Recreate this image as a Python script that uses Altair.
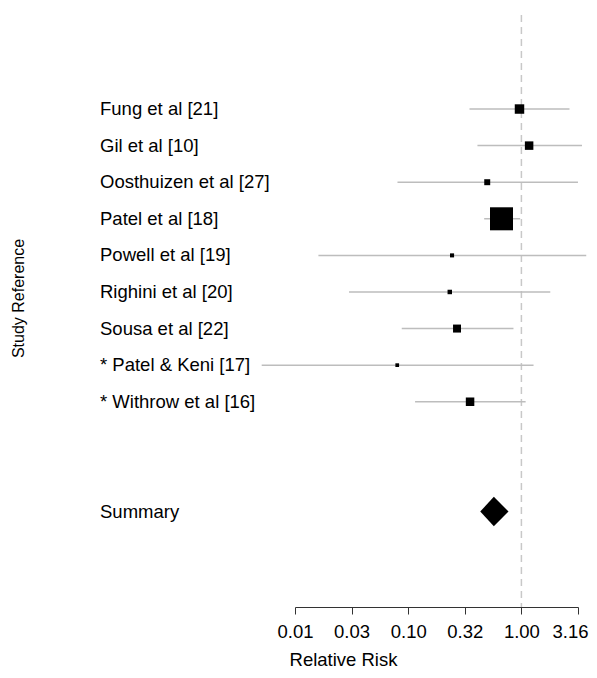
import altair as alt
import pandas as pd

studies = ["Fung et al [21]", "Gil et al [10]", "Oosthuizen et al [27]", "Patel et al [18]",
           "Powell et al [19]", "Righini et al [20]", "Sousa et al [22]",
           "* Patel & Keni [17]", "* Withrow et al [16]"]
rr = [0.962, 1.17, 0.499, 0.667, 0.244, 0.233, 0.270, 0.080, 0.352]
ci_low = [0.348, 0.409, 0.0804, 0.469, 0.0161, 0.030, 0.0877, 0.00508, 0.115]
ci_high = [2.66, 3.43, 3.16, 0.975, 3.74, 1.80, 0.851, 1.28, 1.09]
weights = [9.8, 7.9, 3.9, 58.0, 1.8, 2.2, 7.0, 1.5, 7.9]

summary_label = "Summary"
summary_rr = 0.571
summary_low = 0.433
summary_high = 0.769

tick_values = [0.01, 0.0316, 0.1, 0.316, 1.0, 3.16]
ref_value = [1.0]

n = len(studies)
rows = [n - i + 3 for i in range(n)]
summary_row = 1

df = pd.DataFrame({"study": studies, "rr": rr, "lo": ci_low, "hi": ci_high,
                   "w": weights, "row": rows})
labels_df = pd.DataFrame({"label": studies + [summary_label], "row": rows + [summary_row]})
half = 0.4
diamond_df = pd.DataFrame({
    "x": [summary_low, summary_rr, summary_high],
    "top": [summary_row, summary_row + half, summary_row],
    "bot": [summary_row, summary_row - half, summary_row],
})
ref_df = pd.DataFrame({"ref": ref_value})

FONT = "Liberation Sans"

xscale = alt.Scale(type="log", domain=[0.01, 3.1623], nice=False)
yscale = alt.Scale(domain=[-1.61, 14.57], nice=False, zero=False)
xaxis = alt.Axis(values=tick_values, format=".2f", title="Relative Risk", grid=False,
                 tickSize=7, labelPadding=8, domainColor="#333333", tickColor="#333333",
                 labelFontSize=18.5, titleFontSize=18.5, titleFontWeight="normal",
                 labelFont=FONT, titleFont=FONT, labelColor="black", titleColor="black",
                 labelFlush=False, labelOverlap=False, titleX=48, titleAlign="center",
                 titlePadding=10,
                 labelOffset={"expr": "datum.value > 3 ? -8 : 0"})
yaxis = alt.Axis(title="Study Reference", labels=False, ticks=False, domain=False, grid=False,
                 titleFontSize=16, titleFontWeight="normal", titleFont=FONT,
                 titleColor="black", titleAngle=270, titleX=-277, titleY=283,
                 titleAlign="center", titleBaseline="middle")

ref = alt.Chart(ref_df).mark_rule(color="#c8c8c8", strokeDash=[7, 5], strokeWidth=1.5).encode(
    x=alt.X("ref:Q", scale=xscale, axis=xaxis)
)

ci = alt.Chart(df).mark_rule(color="#bdbdbd", strokeWidth=1.5).encode(
    x=alt.X("lo:Q", scale=xscale, axis=xaxis),
    x2="hi:Q",
    y=alt.Y("row:Q", scale=yscale, axis=yaxis),
)

sq = alt.Chart(df).mark_square(color="black", filled=True, opacity=1).encode(
    x=alt.X("rr:Q", scale=xscale, axis=xaxis),
    y=alt.Y("row:Q", scale=yscale, axis=yaxis),
    size=alt.Size("w:Q", scale=alt.Scale(domain=[0, 100], range=[0, 914]), legend=None),
)

diamond = alt.Chart(diamond_df).mark_area(color="black", opacity=1).encode(
    x=alt.X("x:Q", scale=xscale, axis=xaxis),
    y=alt.Y("top:Q", scale=yscale, axis=yaxis),
    y2="bot:Q",
)

labels = alt.Chart(labels_df).mark_text(align="left", baseline="middle", fontSize=18.5,
                                        font=FONT, color="black").encode(
    x=alt.value(-195),
    y=alt.Y("row:Q", scale=yscale, axis=yaxis),
    text="label:N",
)

chart = alt.layer(ref, ci, sq, diamond, labels).properties(
    width=283, height=592, autosize="none",
    padding={"left": 287, "top": 7, "right": 11, "bottom": 64},
).configure(background="white", view=alt.ViewConfig(stroke=None))

chart.save("out.html", embed_options={"renderer": "svg", "actions": False})
